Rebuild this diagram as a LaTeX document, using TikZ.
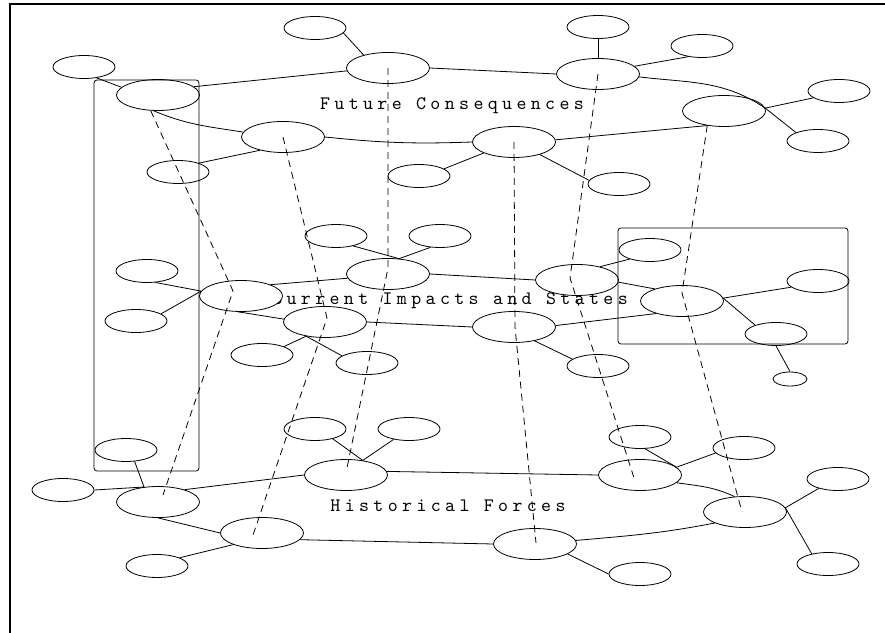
\documentclass[tikz,border=0pt]{standalone}
\usepackage{fontspec}
\usetikzlibrary{shapes.geometric}
\newfontfamily\layerfont{lmmono10-regular.otf}[LetterSpace=23]

\begin{document}
\begin{tikzpicture}[
  x=1pt, y=1pt,
  bignode/.style={ellipse, draw, fill=white, line width=0.8pt,
                  minimum width=83pt, minimum height=31pt, inner sep=0pt},
  smallnode/.style={bignode, minimum width=62pt, minimum height=23pt},
  tinynode/.style={bignode, minimum width=34pt, minimum height=14pt},
  ringline/.style={line width=0.8pt},
  spokeline/.style={line width=0.8pt},
  linkline/.style={line width=0.8pt, dash pattern=on 7pt off 5pt},
  groupbox/.style={draw, line width=0.8pt, rounded corners=3pt},
  layerlabel/.style={font=\layerfont\fontsize{19}{22}\selectfont, anchor=base},
]

%% ── page: 1pt = 1px, origin bottom-left ──────────────────
\useasboundingbox (0,0) rectangle (885,632);
\draw[line width=2pt] (9.5,628) rectangle (900,-20);

%% ── layer titles (under the nodes) ───────────────────────
\node[layerlabel] (futurelbl)  at (452,522) {Future Consequences};
\node[layerlabel] (currentlbl) at (450,327) {Current Impacts and States};
\node[layerlabel] (historylbl) at (448,121) {Historical Forces};

%% ── top layer ────────────────────────────────────────────
\node[bignode] (F1) at (158,537) {};
\node[bignode] (F2) at (388,564) {};
\node[bignode] (F3) at (598,558) {};
\node[bignode] (F4) at (724,521) {};
\node[bignode] (F5) at (514,490) {};
\node[bignode] (F6) at (283,495) {};
\node[smallnode] (fa) at (315,604) {};
\node[smallnode] (fb) at (84,565) {};
\node[smallnode] (fc) at (178,460) {};
\node[smallnode] (fd) at (598,605) {};
\node[smallnode] (fe) at (702,586) {};
\node[smallnode] (ff) at (839,541) {};
\node[smallnode] (fg) at (818,491) {};
\node[smallnode] (fh) at (619,448) {};
\node[smallnode] (fi) at (419,456) {};

\draw[ringline] (F1.13) -- (F2.184);
\draw[ringline] (F2.east) -- (F3.west);
\draw[ringline] (F3.-4) to[out=-7, in=146] (F4.4);
\draw[ringline] (F4.221) -- (F5.3);
\draw[ringline] (F5.west) to[bend left=4] (F6.east);
\draw[ringline] (F6.173) to[out=171, in=-23] (F1.255);

\draw[spokeline] (F2.152) -- (fa.350);
\draw[spokeline] (F1.168) -- (fb.319);
\draw[spokeline] (F6.210) -- (fc.23);
\draw[spokeline] (F3.north) -- (fd.south);
\draw[spokeline] (F3.12) -- (fe.218);
\draw[spokeline] (F4.4) -- (ff.195);
\draw[spokeline] (F4.4) -- (fg.159);
\draw[spokeline] (F5.334) -- (fh.173);
\draw[spokeline] (F5.200) -- (fi.16);

%% ── middle layer ─────────────────────────────────────────
\node[bignode] (M1) at (241,336) {};
\node[bignode] (M2) at (388,358) {};
\node[bignode] (M3) at (577,352) {};
\node[bignode] (M4) at (682,331) {};
\node[bignode] (M5) at (514,305) {};
\node[bignode] (M6) at (325,310) {};
\node[smallnode] (ma) at (336,396) {};
\node[smallnode] (mb) at (440,396) {};
\node[smallnode] (mc) at (147,361) {};
\node[smallnode] (md) at (136,311) {};
\node[smallnode] (me) at (262,277) {};
\node[smallnode] (mf) at (367,269) {};
\node[smallnode] (mg) at (650,382) {};
\node[smallnode] (mh) at (818,351) {};
\node[smallnode] (mi) at (776,298) {};
\node[tinynode]  (mj) at (790,253) {};
\node[smallnode] (mk) at (598,266) {};

\draw[ringline] (M1.21) -- (M2.186);
\draw[ringline] (M2.east) -- (M3.west);
\draw[ringline] (M3.-3) -- (M4.156);
\draw[ringline] (M4.206) -- (M5.2);
\draw[ringline] (M5.west) -- (M6.east);
\draw[ringline] (M6.176) -- (M1.260);

\draw[spokeline] (M1.173) -- (mc.306);
\draw[spokeline] (M1.173) -- (md.16);
\draw[spokeline] (M2.54) -- (ma.330);
\draw[spokeline] (M2.54) -- (mb.230);
\draw[spokeline] (M6.217) -- (me.21);
\draw[spokeline] (M6.217) -- (mf.164);
\draw[spokeline] (M3.30) -- (mg.204);
\draw[spokeline] (M4.4) -- (mh.193);
\draw[spokeline] (M4.4) -- (mi.157);
\draw[spokeline] (mi.south) -- (mj.north);
\draw[spokeline] (M5.326) -- (mk.165);

%% ── bottom layer ─────────────────────────────────────────
\node[bignode] (H1) at (158,130) {};
\node[bignode] (H2) at (346,157) {};
\node[bignode] (H3) at (640,157) {};
\node[bignode] (H4) at (745,120) {};
\node[bignode] (H5) at (535,88) {};
\node[bignode] (H6) at (262,99) {};
\node[smallnode] (ha) at (126,182) {};
\node[smallnode] (hb) at (63,142) {};
\node[smallnode] (hc) at (315,203) {};
\node[smallnode] (hd) at (409,203) {};
\node[smallnode] (he) at (157,66) {};
\node[smallnode] (hf) at (640,195) {};
\node[smallnode] (hg) at (744,184) {};
\node[smallnode] (hh) at (838,153) {};
\node[smallnode] (hi) at (828,68) {};
\node[smallnode] (hj) at (640,58) {};

\draw[ringline] (H1.25) -- (H2.west);
\draw[ringline] (H2.5) -- (H3.west);
\draw[ringline] (H3.-12) to[out=-8, in=155] (H4.124);
\draw[ringline] (H4.200) to[out=191, in=5] (H5.5);
\draw[ringline] (H5.west) -- (H6.-10);
\draw[ringline] (H6.west) -- (H1.south);

\draw[spokeline] (H1.133) -- (ha.307);
\draw[spokeline] (H1.133) -- (hb.east);
\draw[spokeline] (H2.41) -- (hc.331);
\draw[spokeline] (H2.41) -- (hd.214);
\draw[spokeline] (H6.202) -- (he.20);
\draw[spokeline] (H3.12) -- (hf.293);
\draw[spokeline] (H3.12) -- (hg.190);
\draw[spokeline] (H4.6) -- (hh.206);
\draw[spokeline] (H4.6) -- (hi.148);
\draw[spokeline] (H5.343) -- (hj.west);

%% ── grouping boxes ───────────────────────────────────────
\draw[groupbox] (94,552) rectangle (199,161);
\draw[groupbox] (618,404) rectangle (848,288);

%% ── dashed links through the three layers ────────────────
\coordinate (k1) at (233,341);  \coordinate (b1) at (163,137);
\coordinate (k2) at (327,314);  \coordinate (b2) at (253,97);
\coordinate (k3) at (388,364);  \coordinate (b3) at (347,164);
\coordinate (k4) at (515,305);  \coordinate (b4) at (536,89);
\coordinate (k5) at (570,354);  \coordinate (b5) at (634,154);
\coordinate (k6) at (682,339);  \coordinate (b6) at (742,120);

\draw[linkline] (F1.245) -- (k1) -- (b1);
\draw[linkline] (F6.center) -- (k2) -- (b2);
\draw[linkline] (F2.center) -- (k3) -- (b3);
\draw[linkline] (F5.center) -- (k4) -- (b4);
\draw[linkline] (F3.center) -- (k5) -- (b5);
\draw[linkline] (F4.221) -- (k6) -- (b6);

\end{tikzpicture}
\end{document}
